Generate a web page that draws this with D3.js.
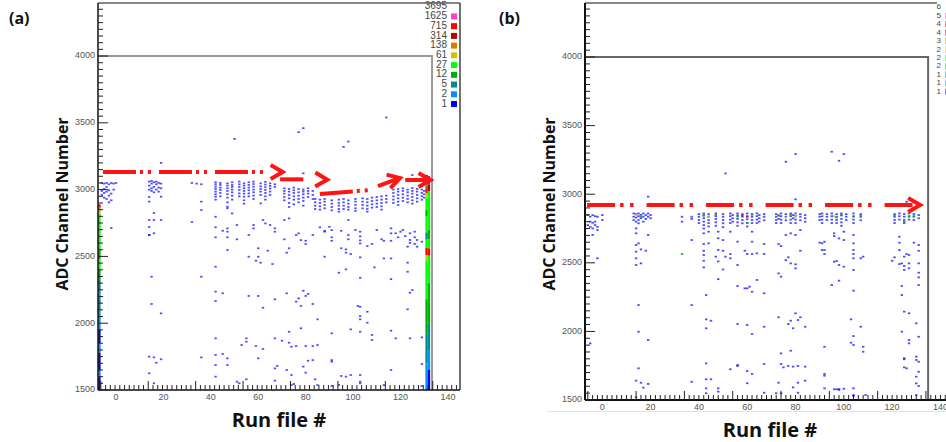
<!DOCTYPE html>
<html>
<head>
<meta charset="utf-8">
<title>ADC channel vs run file</title>
<style>
body { margin: 0; background: #fff; }
svg text { font-family: 'Liberation Sans', Arial, sans-serif; }
.tick-label { font-size: 9px; fill: #555; }
.title { font-family: 'Open Sans', sans-serif; font-weight: 700; fill: #111; }
</style>
</head>
<body>
<svg id="chart" width="946" height="442"></svg>
<script src="https://cdn.jsdelivr.net/npm/d3@7/dist/d3.min.js"></script>
<script>
// ---------- data: panel (a) ----------
const zLabelsA = [3695, 1625, 715, 314, 138, 61, 27, 12, 5, 2, 1];
const zMaxA = 3695;

// [run, [ADC of single-count bins]]
const bandA = [
  [-6, [3050, 2990, 2960]],
  [-5, [3045, 3005, 2975, 2940]],
  [-4, [3050, 3020, 2985, 2930]],
  [-3, [3040, 2995, 2955, 2905]],
  [-2, [3050, 2970, 2920, 2712]],
  [-1, [3045, 3000]],
  [0, [3050]],
  [14, [3060, 3030, 3000, 2945, 2910, 2772, 2720, 2660]],
  [15, [3065, 3045, 3010, 2990]],
  [16, [3055, 3020, 2980, 2825, 2772]],
  [17, [3060, 3040, 3000]],
  [18, [3050, 3015, 2985]],
  [19, [3200, 3045, 3010, 2947, 2772]],
  [32, [3050, 2757]],
  [34, [3045]],
  [36, [3040, 2910, 2847]],
  [42, [3055, 3040, 3022, 3005, 2985, 2965, 2947, 2925, 2797, 2718]],
  [44, [3050, 3035, 3015, 2997, 2975, 2950]],
  [47, [3047, 3030, 3010, 2990, 2965, 2940, 2905, 2872, 2860, 2710]],
  [49, [3055, 3035, 3020, 3000, 2980, 2955, 2925, 2822]],
  [51, [2735]],
  [52, [3060, 3040, 3020, 2997, 2972, 2950]],
  [54, [3047, 3030, 3010, 2990, 2970, 2947, 2920, 2895]],
  [56, [3055, 3035, 3015, 2995, 2972, 2950]],
  [58, [3060, 3042, 3022, 3000, 2980, 2955, 2930, 2735, 2710]],
  [61, [3047, 3025, 3005, 2985, 2960, 2897]],
  [62, [2772]],
  [63, [3058, 3038, 3018, 2998, 2975, 2950, 2925, 2747]],
  [65, [3047, 3028, 3008, 2985, 2960, 2735]],
  [67, [3040, 3020, 2710]],
  [71, [3010, 2990, 2970, 2945, 2920, 2772]],
  [73, [3005, 2985, 2960, 2935, 2900, 2870, 2785]],
  [75, [3015, 2995, 2975, 2950, 2925, 2890]],
  [77, [3005, 2980, 2955, 2930, 2905]],
  [79, [3122, 3000, 2985, 2965, 2940, 2915, 2880]],
  [81, [3010, 2990, 2970, 2945]],
  [83, [2990, 2960, 2930]],
  [84, [2930, 2905, 2880, 2855]],
  [86, [2925, 2900, 2875, 2850, 2718]],
  [88, [2930, 2910, 2885, 2860, 2685]],
  [90, [2722]],
  [91, [2920, 2895, 2870, 2845]],
  [94, [2925, 2900, 2880, 2855, 2835]],
  [96, [2930, 2905, 2880, 2855]],
  [98, [2920, 2895, 2870, 2850, 2772]],
  [101, [2930, 2910, 2885, 2860, 2840, 2698]],
  [104, [2935, 2910, 2885, 2860]],
  [106, [2930, 2905, 2880, 2855, 2835]],
  [108, [2940, 2915, 2890, 2865]],
  [110, [2945, 2920, 2895, 2870, 2698]],
  [112, [2950, 2925, 2900, 2875, 2850]],
  [114, [2955, 2930, 2905]],
  [116, [2710]],
  [117, [3000, 2975, 2950, 2925, 2900]],
  [119, [3005, 2985, 2960, 2935, 2910, 2885]],
  [121, [3010, 2990, 2965, 2940, 2915, 2698]],
  [123, [3000, 2980, 2955, 2930, 2905]],
  [125, [3109, 3012, 2990, 2970, 2945, 2920, 2895]],
  [127, [3005, 2985, 2960, 2935, 2910, 2623]],
  [129, [3000, 2975, 2950, 2925, 2610]],
  [130, [2990, 2965, 2940]]
];

// [run, ADC] single-count bins away from the band
const scatterA = [
  [14,2660],[16,2673],[42,2643],[45,2692],[47,2685],[47,2643],[51,2628],[56,2660],[67,2685],[71,2628],
  [76,2660],[77,2673],[78,2622],[80,2617],[80,2593],[83,2660],[88,2692],[91,2697],[91,2643],[91,2617],
  [95,2692],[98,2660],[98,2628],[103,2685],[103,2650],[103,2620],[103,2597],[108,2593],[106,2578],
  [112,2628],[113,2617],[116,2617],[116,2673],[118,2673],[119,2643],[120,2685],[122,2652],[123,2573],
  [124,2623],[126,2643],[126,2685],[124,2673],[124,2602],[126,2593],[127,2573],
  [47,2548],[56,2498],[60,2561],[60,2498],[59,2468],[61,2453],[64,2543],[66,2443],[73,2561],[72,2528],
  [88,2498],[95,2561],[97,2553],[97,2528],[99,2518],[103,2493],[113,2485],[116,2485],[123,2453],
  [123,2385],[94,2378],[97,2403],[109,2418],[42,2423],
  [15,2348],[36,2348],[103,2340],[116,2330],
  [42,2236],[45,2224],[56,2204],[60,2204],[67,2179],[72,2224],[76,2161],[77,2186],[79,2243],[80,2204],
  [81,2219],[78,2129],[83,2144],[62,2116],[42,2166],[125,2248],[124,2228],[123,2104],[15,2144],[19,2074],
  [103,2123],[103,2054],[103,2029],[106,2086],[106,2004],[102,2129],[85,2029],
  [99,1954],[91,1924],[103,1936],[108,1912],[108,1874],[116,1944],[118,1887],[124,1887],[129,1894],
  [73,1936],[78,1962],[42,1887],[55,1887],[55,1862],[53,1837],[59,1829],[62,1807],[67,1887],[70,1869],
  [74,1824],[76,1829],[80,1829],[83,1829],[85,1837],[73,1854],
  [14,1750],[16,1744],[19,1730],[17,1704],[36,1744],[42,1762],[45,1769],[47,1737],[42,1687],[47,1687],
  [60,1737],[67,1662],[68,1680],[72,1650],[74,1612],[79,1675],[81,1719],[83,1724],[80,1630],[91,1724],
  [91,1712],[95,1605],[97,1600],[99,1612],[103,1612],[116,1650],[129,1694],[84,1580],[14,1625],[42,1600],
  [55,1580],[51,1562],[52,1550],[16,1550],[67,1570],[74,1537],[75,1545],[85,1537],[91,1530],[103,1550],
  [103,1562],[113,1537],[129,1530],[94,1537],
  [50,3380],[77,3430],[79,3460],[96,3320],[98,3360],[114,3540]
];

// dense columns: [run, ADC from, ADC to, count]
const columnsA = [
  [-7, 2865, 2890, 1000], [-7, 2845, 2865, 200], [-7, 2815, 2845, 90], [-7, 2560, 2815, 40],
  [-7, 2480, 2560, 18], [-7, 2400, 2480, 40], [-7, 2330, 2400, 18], [-7, 2250, 2330, 8],
  [-7, 2180, 2250, 3], [-7, 2100, 2180, 8], [-7, 1950, 2100, 3], [-7, 1850, 1950, 1],
  [-7, 1780, 1850, 3], [-7, 1650, 1780, 1], [-7, 1600, 1650, 3], [-7, 1500, 1600, 1],
  [131, 3072, 3110, 1], [131, 3030, 3072, 3], [131, 3010, 3030, 18], [131, 2975, 3010, 1000],
  [131, 2940, 2975, 90], [131, 2850, 2940, 40], [131, 2800, 2850, 18], [131, 2680, 2800, 40],
  [131, 2625, 2680, 8], [131, 2565, 2625, 40], [131, 2510, 2565, 1000], [131, 2470, 2510, 90],
  [131, 2180, 2470, 40], [131, 1925, 2180, 18], [131, 1700, 1925, 8], [131, 1500, 1700, 3],
  [132, 3080, 3100, 1], [132, 3040, 3072, 8], [132, 2990, 3040, 450], [132, 2950, 2990, 40],
  [132, 2700, 2950, 40], [132, 2630, 2700, 18], [132, 2560, 2630, 40], [132, 2505, 2560, 1000],
  [132, 2300, 2505, 40], [132, 2000, 2300, 18], [132, 1800, 2000, 8], [132, 1650, 1800, 3],
  [132, 1500, 1650, 1]
];

// dash-dot arrows drawn on (a), in run / ADC units
const arrowsA = [
  { line: [[-5.5, 3132], [63.5, 3132]], tip: [70.3, 3132] },
  { line: [[69.2, 3077], [79, 3077]], tip: [89.1, 3074] },
  { line: [[86, 2967], [107.2, 2997]], tip: null },
  { line: [[110.5, 3027], [119, 3082]], tip: [119.8, 3086] },
  { line: [[122, 3072], [131.2, 3072]], tip: [132.7, 3072] }
];

// ---------- data: panel (b) ----------
const zLabelsB = [6, 5, 4, 4, 3, 2, 2, 2, 1, 1, 1];
const zMaxB = 6.5;

const bandB = [
  [-6, [2848, 2775]],
  [-5, [2836, 2800, 2762]],
  [-4, [2848, 2792, 2751, 2703]],
  [-3, [2840, 2800, 2775]],
  [-2, [2836, 2762, 2739, 2533]],
  [0, [2848, 2812]],
  [13, [2860, 2836, 2812]],
  [14, [2855, 2830, 2800, 2751, 2715, 2630, 2581, 2533, 2484]],
  [15, [2860, 2840, 2812, 2788, 2642]],
  [16, [2850, 2825, 2598, 2496]],
  [17, [2860, 2836, 2800]],
  [18, [2848, 2820, 2588]],
  [19, [2860, 2836, 2703]],
  [20, [2848, 2825]],
  [33, [2836, 2800]],
  [37, [2836, 2820, 2666]],
  [40, [2855, 2836, 2812, 2790]],
  [42, [2860, 2845, 2825, 2800, 2775, 2750, 2715, 2637, 2588, 2557, 2515, 2467]],
  [44, [2855, 2836, 2812, 2790, 2765, 2727, 2642]],
  [47, [2860, 2840, 2820, 2795, 2770, 2545]],
  [48, [2727, 2679, 2594, 2510, 2381]],
  [50, [2855, 2836, 2812, 2788, 2760, 2666, 2588, 2452]],
  [51, [2545]],
  [53, [2860, 2840, 2815, 2790, 2727, 2564, 2533]],
  [54, [2848, 2825, 2800]],
  [56, [2860, 2845, 2820, 2795, 2770, 2654, 2484, 2331]],
  [58, [2855, 2836, 2812, 2788]],
  [59, [2588, 2314]],
  [60, [2860, 2840, 2818, 2792, 2765, 2564, 2314]],
  [61, [2326]],
  [62, [2855, 2836, 2812, 2790, 2727, 2654, 2564, 2289]],
  [64, [2860, 2840, 2815, 2790, 2569, 2375]],
  [65, [2848, 2825, 2800]],
  [67, [2855, 2836, 2810, 2637, 2564, 2278]],
  [72, [2855, 2836, 2812, 2790]],
  [73, [2845, 2820, 2637, 2423]],
  [74, [2860, 2840, 2815, 2790, 2622, 2399]],
  [76, [2855, 2836, 2810, 2703, 2520]],
  [77, [2540]],
  [78, [2860, 2840, 2815, 2790, 2715, 2496]],
  [79, [2848, 2825]],
  [80, [2860, 2840, 2815, 2790, 2703, 2489, 2460]],
  [82, [2855, 2836, 2810, 2739, 2588]],
  [84, [2848, 2825, 2800]],
  [90, [2855, 2836, 2812, 2647]],
  [91, [2860, 2840, 2815, 2790, 2642, 2593]],
  [92, [2654, 2593, 2564]],
  [93, [2855, 2836, 2812]],
  [95, [2860, 2840, 2815, 2790, 2338]],
  [96, [2715, 2695, 2508]],
  [97, [2855, 2836, 2812, 2790, 2513]],
  [98, [2678, 2484, 2370]],
  [99, [2860, 2845, 2820, 2795, 2770]],
  [100, [2727, 2666, 2472]],
  [101, [2855, 2836, 2812]],
  [104, [2860, 2840, 2815, 2790, 2703, 2642, 2593, 2564, 2533, 2448, 2297]],
  [107, [2855, 2836, 2810, 2533]],
  [108, [2545]],
  [120, [2515]],
  [121, [2855, 2836, 2812, 2790, 2540]],
  [123, [2860, 2840, 2815, 2690, 2647, 2593, 2491]],
  [124, [2496]],
  [125, [2855, 2836, 2812, 2790, 2545, 2477, 2448]],
  [126, [2564]],
  [127, [2860, 2840, 2815, 2557, 2496, 2460]],
  [129, [2855, 2836, 2812, 2647]],
  [131, [2848, 2825, 2630, 2588, 2496, 2428, 2394, 2338]]
];

const scatterB = [
  [-5,1913],[15,2192],[15,1998],[19,1937],[15,1731],[14,1641],[16,1626],[17,1590],[19,1617],[14,1520],
  [37,2192],[37,1633],
  [43,2265],[43,2088],[43,2023],[43,1767],[43,1651],[43,1585],[43,1549],[45,2078],[45,1651],[48,1585],[48,1561],
  [53,1724],[56,1748],[56,1755],[60,1711],[62,1690],[56,2054],[60,2047],[62,1981],[67,2034],[67,1762],
  [60,1622],[67,1553],
  [73,2103],[74,1840],[74,1762],[75,1738],[73,1626],[74,1549],[72,1549],
  [77,2054],[78,2078],[79,2023],[80,2132],[81,2083],[82,2103],[84,2034],[78,1859],[77,1748],[79,1743],
  [81,1748],[84,1743],[79,1592],[81,1626],[84,1641],[81,1553],
  [104,1966],[104,1901],[107,2034],[108,1888],[108,1852],[103,2088],[103,1918],
  [92,1888],[92,1690],[92,1677],[92,1585],[96,1578],[97,1578],[98,1580],[100,1582],[104,1585],[104,1536],
  [98,1573],[109,1536],[104,1529],
  [124,2331],[124,2265],[124,1998],[125,2144],[127,2132],[127,1937],[127,1913],[125,1804],[125,1738],
  [130,1816],[130,1792],[131,1779],[131,1706],[130,1621],[131,1602],[130,1536],[131,1961],[130,2059],
  [130,1670],[125,1797],[126,1731],
  [51,3152],[76,3237],[80,3293],[80,2963],[95,3310],[98,3244],[100,3293],[126,2945],[19,2982]
];

// bins with more than one entry: [run, ADC, count]
const hotB = [
  [-6,2848,2],[14,2848,3],[16,2836,2],[33,2564,2],[42,2845,2],[44,2836,3],[47,2848,2],[56,2836,2],
  [58,2845,4],[60,2836,4],[62,2850,2],[73,2845,2],[76,2830,3],[78,2850,2],[80,2836,3],[91,2848,3],
  [96,2840,3],[97,2830,2],[99,2848,2],[104,2836,2],[107,2845,2],[121,2845,2],[127,2836,2],[129,2840,2],
  [125,2800,2],[60,2790,2]
];

const arrowsB = [
  { line: [[-6.3, 2921], [129.4, 2921]], tip: [131.6, 2921] }
];

// ---------- shared ----------
const palette = ['#0000ff', '#0090ff', '#008b8b', '#00b000', '#00ff00',
                 '#c8c800', '#d08000', '#c00000', '#ff0000', '#ff40c8'];
const xTickLabels = [0, 20, 40, 60, 80, 100, 120, 140];
const yTickLabels = [1500, 2000, 2500, 3000, 3500, 4000];

const svg = d3.select('#chart');

function drawPanel(p) {
  const g = svg.append('g');
  const x = d3.scaleLinear().domain(p.xDomain).range(p.xRange);
  const y = d3.scaleLinear().domain(p.yDomain).range(p.yRange);
  const [xl, xr] = p.xRange;
  const [yb, yt] = p.yRange;
  const colorOf = c => palette[Math.max(0, Math.min(9, Math.floor(10 * Math.log(c) / Math.log(p.zMax) + 1e-9)))];
  const binH = 13;

  // grey box of the earlier frame
  g.append('path')
    .attr('d', `M${xl},${y(4000)}H${x(p.boxRun)}V${yb}`)
    .attr('fill', 'none').attr('stroke', p.boxColor).attr('stroke-width', 2);

  // single bins
  const cells = [];
  p.band.forEach(([run, list]) => list.forEach(a => cells.push([run, a, 1])));
  p.scatter.forEach(([run, a]) => cells.push([run, a, 1]));
  (p.hot || []).forEach(c => cells.push(c));

  g.append('g').selectAll('rect').data(cells).join('rect')
    .attr('x', d => x(d[0] - 0.5))
    .attr('y', d => y(d[1] + binH / 2))
    .attr('width', d => x(d[0] + 0.5) - x(d[0] - 0.5))
    .attr('height', d => y(d[1] - binH / 2) - y(d[1] + binH / 2))
    .attr('fill', d => colorOf(d[2]))
    .attr('opacity', d => d[2] === 1 ? 0.7 : 0.85);

  // dense columns
  g.append('g').selectAll('rect').data(p.columns || []).join('rect')
    .attr('x', d => x(d[0] - 0.5))
    .attr('y', d => y(d[2]))
    .attr('width', d => x(d[0] + 0.5) - x(d[0] - 0.5))
    .attr('height', d => y(d[1]) - y(d[2]))
    .attr('fill', d => colorOf(d[3]));

  // frame
  g.append('line').attr('x1', xl).attr('x2', xl).attr('y1', yt).attr('y2', yb)
    .attr('stroke', '#111').attr('stroke-width', p.axisWidth);
  g.append('line').attr('x1', xl).attr('x2', p.frameRight).attr('y1', yt).attr('y2', yt)
    .attr('stroke', '#111').attr('stroke-width', 1.2);
  if (p.drawRight) {
    g.append('line').attr('x1', p.frameRight).attr('x2', p.frameRight).attr('y1', yt).attr('y2', yb)
      .attr('stroke', '#111').attr('stroke-width', 1.2);
  }
  g.append('line').attr('x1', xl).attr('x2', xr).attr('y1', yb).attr('y2', yb)
    .attr('stroke', '#111').attr('stroke-width', p.axisWidth);

  // y ticks
  const yt50 = d3.range(1500, p.yDomain[1], 50);
  g.append('g').selectAll('line').data(yt50).join('line')
    .attr('x1', xl).attr('x2', d => xl + (d % 500 === 0 ? 10 : 5))
    .attr('y1', d => y(d)).attr('y2', d => y(d))
    .attr('stroke', '#222').attr('stroke-width', 1);
  g.append('g').selectAll('text').data(yTickLabels).join('text')
    .attr('class', 'tick-label')
    .attr('x', xl - 3).attr('y', d => y(d))
    .attr('text-anchor', 'end').attr('dominant-baseline', 'middle')
    .text(d => d);

  // x ticks (offset from the labels as in the original picture)
  const xt = d3.range(p.xTickStart - 20, p.xDomain[1], 2).filter(v => v > p.xDomain[0]);
  g.append('g').selectAll('line').data(xt).join('line')
    .attr('x1', d => x(d)).attr('x2', d => x(d))
    .attr('y1', yb).attr('y2', d => yb - (Math.round((d - p.xTickStart) / 2) % 10 === 0 ? 9 : 5))
    .attr('stroke', '#222').attr('stroke-width', 1);
  g.append('g').selectAll('text').data(xTickLabels).join('text')
    .attr('class', 'tick-label')
    .attr('x', d => x(d)).attr('y', yb + 8)
    .attr('text-anchor', 'middle').attr('dominant-baseline', 'middle')
    .text(d => d);

  // palette
  const zg = g.append('g');
  zg.selectAll('text').data(p.zLabels).join('text')
    .attr('x', p.zX).attr('y', (d, i) => p.zY0 + i * p.zStep)
    .attr('text-anchor', 'end').attr('dominant-baseline', 'middle')
    .attr('font-size', p.zFont).attr('fill', '#444')
    .text(d => d);
  zg.selectAll('rect').data(p.zLabels.slice(1)).join('rect')
    .attr('x', p.zX + 4).attr('y', (d, i) => p.zY0 + (i + 1) * p.zStep - 3)
    .attr('width', 6).attr('height', 6)
    .attr('fill', (d, i) => palette[9 - i])
    .attr('opacity', p.zOpacity);

  // arrows
  p.arrows.forEach(a => {
    const pts = a.line.map(([r, v]) => [x(r), y(v)]);
    g.append('path')
      .attr('d', d3.line()(pts))
      .attr('fill', 'none').attr('stroke', '#ff1414').attr('stroke-width', 4)
      .attr('stroke-dasharray', p.dash);
    if (a.tip) {
      const t = [x(a.tip[0]), y(a.tip[1])];
      const last = pts[pts.length - 1];
      let dx = t[0] - last[0], dy = t[1] - last[1];
      const len = Math.hypot(dx, dy) || 1;
      dx /= len; dy /= len;
      const s = 12, w = 7;
      const a1 = [t[0] - s * dx - w * dy, t[1] - s * dy + w * dx];
      const a2 = [t[0] - s * dx + w * dy, t[1] - s * dy - w * dx];
      g.append('path')
        .attr('d', `M${a1}L${t}L${a2}`)
        .attr('fill', 'none').attr('stroke', '#ff1414').attr('stroke-width', 4)
        .attr('stroke-linejoin', 'miter');
    }
  });

  // titles
  svg.append('text').attr('class', 'title')
    .attr('transform', `translate(${p.yTitleX},${p.yTitleY}) rotate(-90)`)
    .attr('text-anchor', 'middle').attr('font-size', 16)
    .text('ADC Channel Number');
  svg.append('text').attr('class', 'title')
    .attr('x', p.xTitleX).attr('y', p.xTitleY)
    .attr('text-anchor', 'middle').attr('font-size', 20)
    .text('Run file #');
  svg.append('text').attr('class', 'title')
    .attr('x', p.tagX).attr('y', 24).attr('font-size', 16)
    .text(p.tag);
}

drawPanel({
  tag: '(a)', tagX: 9,
  xDomain: [-7.6, 145.1], xRange: [98, 460],
  yDomain: [1500, 4397], yRange: [390, 3],
  xTickStart: 13.6, frameRight: 460, drawRight: true, axisWidth: 1.5,
  boxRun: 133.3, boxColor: '#999',
  band: bandA, scatter: scatterA, columns: columnsA, zMax: zMaxA,
  zLabels: zLabelsA, zX: 447, zY0: 6.7, zStep: 9.73, zOpacity: 1, zFont: 10,
  arrows: arrowsA, dash: '33,4,3,5,3,8',
  yTitleX: 68, yTitleY: 204, xTitleX: 279, xTitleY: 427
});

drawPanel({
  tag: '(b)', tagX: 499,
  xDomain: [-7.16, 142.3], xRange: [585, 946],
  yDomain: [1500, 4394], yRange: [400, 3],
  xTickStart: 14, frameRight: 937, drawRight: false, axisWidth: 2,
  boxRun: 134.9, boxColor: '#666',
  band: bandB, scatter: scatterB, hot: hotB, zMax: zMaxB,
  zLabels: zLabelsB, zX: 941, zY0: 7.3, zStep: 8.44, zOpacity: 0.5, zFont: 8,
  arrows: arrowsB, dash: '28,5,3.5,6.5,3.5,13',
  yTitleX: 555, yTitleY: 204, xTitleX: 770, xTitleY: 437
});

// faint border of the second picture
svg.append('line').attr('x1', 547).attr('x2', 946).attr('y1', 411.5).attr('y2', 411.5)
  .attr('stroke', '#e2e2e2').attr('stroke-width', 1);
</script>
</body>
</html>
